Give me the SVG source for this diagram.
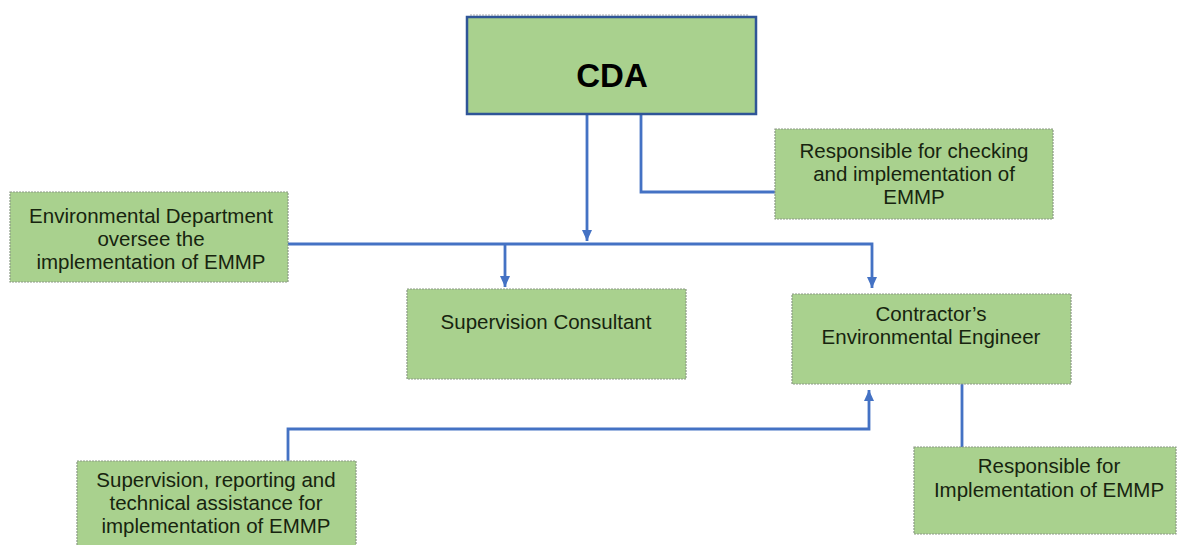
<svg xmlns="http://www.w3.org/2000/svg" width="1177" height="545" viewBox="0 0 1177 545">
<style>
.box{fill:#A9D18E;stroke:#8c9a86;stroke-width:1.2;stroke-dasharray:2 1}
.cda{fill:#A9D18E;stroke:#2F5597;stroke-width:2.5}
.t{font-family:"Liberation Sans",Arial,sans-serif;font-size:20.5px;fill:#17240f;text-anchor:middle}
.tb{font-family:"Liberation Sans",Arial,sans-serif;font-size:33px;font-weight:bold;fill:#000;text-anchor:middle}
.c{fill:none;stroke:#4472C4;stroke-width:2.8}
</style>
<defs>
<marker id="ah" markerUnits="userSpaceOnUse" markerWidth="12" markerHeight="12" viewBox="0 0 12 12" refX="11" refY="6" orient="auto">
<path d="M0,1 L11,6 L0,11 z" fill="#4472C4"/>
</marker>
</defs>
<rect width="1177" height="545" fill="#fff"/>
<line x1="470" y1="15" x2="748" y2="15" stroke="#c9c9c9" stroke-width="1.5" stroke-dasharray="2 1"/>
<g id="connectors">
<path class="c" d="M587 115 V241" marker-end="url(#ah)"/>
<path class="c" d="M288 244 H872 V288" marker-end="url(#ah)"/>
<path class="c" d="M505 244 V287" marker-end="url(#ah)"/>
<path class="c" d="M641 115 V192 H776"/>
<path class="c" d="M288 461 V429 H869 V390" marker-end="url(#ah)"/>
<path class="c" d="M962 384 V447"/>
</g>
<g id="cda">
<rect class="cda" x="467" y="17" width="289" height="97"/>
<text class="tb" x="612" y="87">CDA</text>
</g>
<g id="env-dept">
<rect class="box" x="10" y="192" width="278" height="90"/>
<text class="t" x="151" y="223">Environmental Department</text>
<text class="t" x="151" y="246">oversee the</text>
<text class="t" x="151" y="269">implementation of EMMP</text>
</g>
<g id="resp-checking">
<rect class="box" x="775" y="129" width="278" height="90"/>
<text class="t" x="914" y="158">Responsible for checking</text>
<text class="t" x="914" y="181">and implementation of</text>
<text class="t" x="914" y="204">EMMP</text>
</g>
<g id="supervision-consultant">
<rect class="box" x="407" y="289" width="279" height="90"/>
<text class="t" x="546" y="329">Supervision Consultant</text>
</g>
<g id="contractor-engineer">
<rect class="box" x="792" y="294" width="279" height="90"/>
<text class="t" x="931" y="321">Contractor’s</text>
<text class="t" x="931" y="344">Environmental Engineer</text>
</g>
<g id="supervision-reporting">
<rect class="box" x="77" y="461" width="279" height="90"/>
<text class="t" x="216" y="487">Supervision, reporting and</text>
<text class="t" x="216" y="510">technical assistance for</text>
<text class="t" x="216" y="533">implementation of EMMP</text>
</g>
<g id="resp-implementation">
<rect class="box" x="914" y="447" width="262" height="87"/>
<text class="t" x="1049" y="473">Responsible for</text>
<text class="t" x="1049" y="497">Implementation of EMMP</text>
</g>
</svg>
